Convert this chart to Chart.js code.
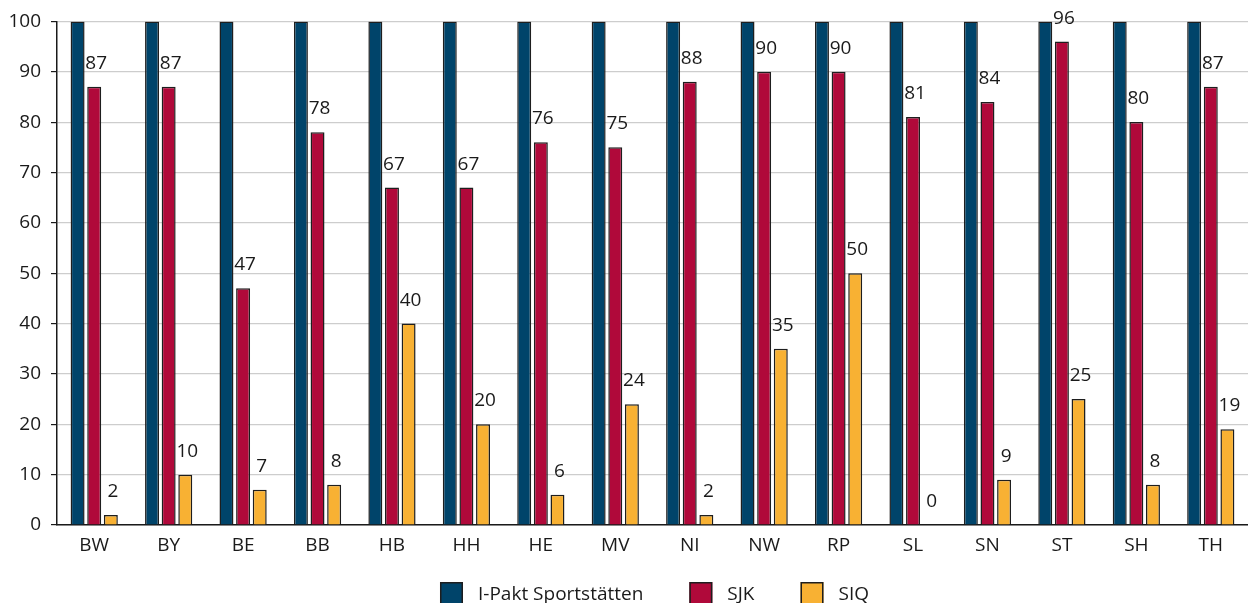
<!DOCTYPE html>
<html>
<head>
<meta charset="utf-8">
<script src="https://cdn.jsdelivr.net/npm/chart.js@4/dist/chart.umd.min.js"></script>
<style>
  html, body { margin: 0; padding: 0; background: #fff; overflow: hidden; }
  #wrap { width: 1248px; height: 603px; position: relative; }
</style>
</head>
<body>
<div id="wrap"><canvas id="c" width="1248" height="603"></canvas></div>
<script>
// Bundesländer
const categories = ['BW','BY','BE','BB','HB','HH','HE','MV','NI','NW','RP','SL','SN','ST','SH','TH'];
// Shares in percent
const iPakt = [100,100,100,100,100,100,100,100,100,100,100,100,100,100,100,100];
const sjk   = [87,87,47,78,67,67,76,75,88,90,90,81,84,96,80,87];
const siq   = [2,10,7,8,40,20,6,24,2,35,50,0,9,25,8,19];
const yTicks = [0,10,20,30,40,50,60,70,80,90,100];

const FONT = "'Open Sans', 'Noto Sans', sans-serif";
const FONT_SIZE = 19;
const TEXT = '#1a1a1a';
const EDGE = '#1e1e1e';

// Value labels above the SJK and SIQ bars
const valueLabels = {
  id: 'valueLabels',
  afterDatasetsDraw(chart) {
    const ctx = chart.ctx;
    ctx.save();
    ctx.font = FONT_SIZE + 'px ' + FONT;
    ctx.fillStyle = TEXT;
    ctx.textAlign = 'center';
    ctx.textBaseline = 'alphabetic';
    [1, 2].forEach(di => {
      const meta = chart.getDatasetMeta(di);
      const data = chart.data.datasets[di].data;
      meta.data.forEach((bar, i) => {
        ctx.fillText(String(data[i]), bar.x + 2, bar.y - 18);
      });
    });
    ctx.restore();
  }
};

// Legend row under the x axis, centred on the plot area
const bottomLegend = {
  id: 'bottomLegend',
  afterDraw(chart) {
    const ctx = chart.ctx;
    const box = 23, textGap = 15, itemGap = 46;
    const area = chart.chartArea;
    ctx.save();
    ctx.font = FONT_SIZE + 'px ' + FONT;
    const items = chart.data.datasets.map(ds => ({
      label: ds.label, color: ds.backgroundColor,
      w: box + textGap + ctx.measureText(ds.label).width
    }));
    const total = items.reduce((s, it) => s + it.w, 0) + itemGap * (items.length - 1);
    let x = (area.left + area.right) / 2 - total / 2 + 2;
    const top = area.bottom + 57;
    items.forEach(it => {
      ctx.fillStyle = it.color;
      ctx.fillRect(x, top, box, box);
      ctx.strokeStyle = EDGE;
      ctx.lineWidth = 1.5;
      ctx.strokeRect(x + 0.75, top + 0.75, box - 1.5, box - 1.5);
      ctx.fillStyle = TEXT;
      ctx.textAlign = 'left';
      ctx.textBaseline = 'middle';
      ctx.fillText(it.label, x + box + textGap, top + 13);
      x += it.w + itemGap;
    });
    ctx.restore();
  }
};

new Chart(document.getElementById('c'), {
  type: 'bar',
  data: {
    labels: categories,
    datasets: [
      { label: 'I-Pakt Sportstätten', data: iPakt, backgroundColor: '#00446A', borderColor: EDGE, borderWidth: 1.5 },
      { label: 'SJK', data: sjk, backgroundColor: '#B0093A', borderColor: EDGE, borderWidth: 1.5 },
      { label: 'SIQ', data: siq, backgroundColor: '#F8B133', borderColor: EDGE, borderWidth: 1.5 }
    ]
  },
  options: {
    responsive: false,
    animation: false,
    layout: { padding: { top: 9, right: 0, left: 0, bottom: 38 } },
    datasets: { bar: { categoryPercentage: 0.67, barPercentage: 0.84 } },
    plugins: {
      legend: { display: false },
      tooltip: { enabled: false }
    },
    scales: {
      x: {
        grid: { display: false, drawTicks: false },
        border: { color: TEXT, width: 1.5 },
        ticks: { font: { family: FONT, size: FONT_SIZE }, color: TEXT, padding: 9 },
        afterFit(s) { s.height = 40; }
      },
      y: {
        min: 0, max: 100,
        afterBuildTicks(s) { s.ticks = yTicks.map(v => ({ value: v })); },
        grid: { color: '#cdcdcd', lineWidth: 1.2, tickLength: 6, tickColor: TEXT },
        border: { color: TEXT, width: 1.5 },
        ticks: { font: { family: FONT, size: FONT_SIZE }, color: TEXT, padding: 10 },
        afterFit(s) { s.width = 57; }
      }
    }
  },
  plugins: [valueLabels, bottomLegend]
});
</script>
</body>
</html>
